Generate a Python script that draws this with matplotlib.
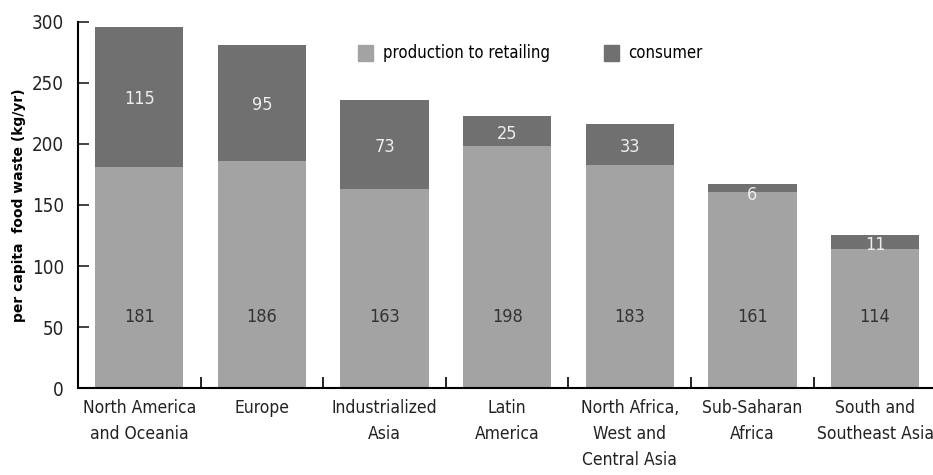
import matplotlib.pyplot as plt
import numpy as np
from matplotlib.patches import Patch

# Regions and per capita food waste (kg/yr)
regions = ['North America\nand Oceania', 'Europe', 'Industrialized\nAsia', 'Latin\nAmerica',
           'North Africa,\nWest and\nCentral Asia', 'Sub-Saharan\nAfrica', 'South and\nSoutheast Asia']
production = [181, 186, 163, 198, 183, 161, 114]
consumer = [115, 95, 73, 25, 33, 6, 11]

light = '#a3a3a3'
dark = '#707070'
font = ['DejaVu Sans']
st = 'condensed'

fig = plt.figure(figsize=(9.33, 4.75), dpi=100)
ax = fig.add_axes([0.0836, 0.183, 0.92, 0.771])

x = np.arange(len(regions))
ax.bar(x, production, width=0.72, color=light)
ax.bar(x, consumer, width=0.72, bottom=production, color=dark)

for i in range(len(regions)):
    ax.text(x[i], 58, str(production[i]), ha='center', va='center',
            fontsize=13, color='#333333', family=font, fontstretch=st)
    mid = production[i] + consumer[i] / 2 - 2
    if consumer[i] < 10:
        mid = production[i] - 3
    ax.text(x[i], mid, str(consumer[i]), ha='center', va='center',
            fontsize=13, color='#eeeeee', family=font, fontstretch=st)

ax.set_xlim(-0.5, 6.5)
ax.set_ylim(0, 300)
ax.set_yticks([0, 50, 100, 150, 200, 250, 300])
ax.set_yticklabels(['0', '50', '100', '150', '200', '250', '300'], family=font,
                   fontsize=13.5, fontstretch=st)
ax.tick_params(axis='y', direction='in', length=8, width=1.2, pad=10, colors='#222222')

ax.set_xticks(np.arange(0.5, 6.6, 1))
ax.set_xticklabels([])
ax.tick_params(axis='x', which='major', direction='in', length=8, width=1.2)
ax.set_xticks(x, minor=True)
ax.set_xticklabels(regions, minor=True, family=font, fontsize=12.5, linespacing=1.55,
                   fontstretch=st)
ax.tick_params(axis='x', which='minor', length=0, pad=8, colors='#222222')

for s in ['top', 'right']:
    ax.spines[s].set_visible(False)
for s in ['left', 'bottom']:
    ax.spines[s].set_linewidth(1.5)

ax.set_ylabel('per capita  food waste (kg/yr)', fontsize=10, fontweight='bold', labelpad=4)

handles = [Patch(color=light, label='production to retailing'),
           Patch(color=dark, label='consumer')]
fig.legend(handles=handles, loc='center left', bbox_to_anchor=(0.384, 0.888), ncol=2,
           frameon=False, prop={'family': font, 'size': 12, 'stretch': st},
           borderpad=0, borderaxespad=0, handlelength=0.9, handleheight=1.1,
           columnspacing=3.2, handletextpad=0.6)

plt.savefig('out.png')
